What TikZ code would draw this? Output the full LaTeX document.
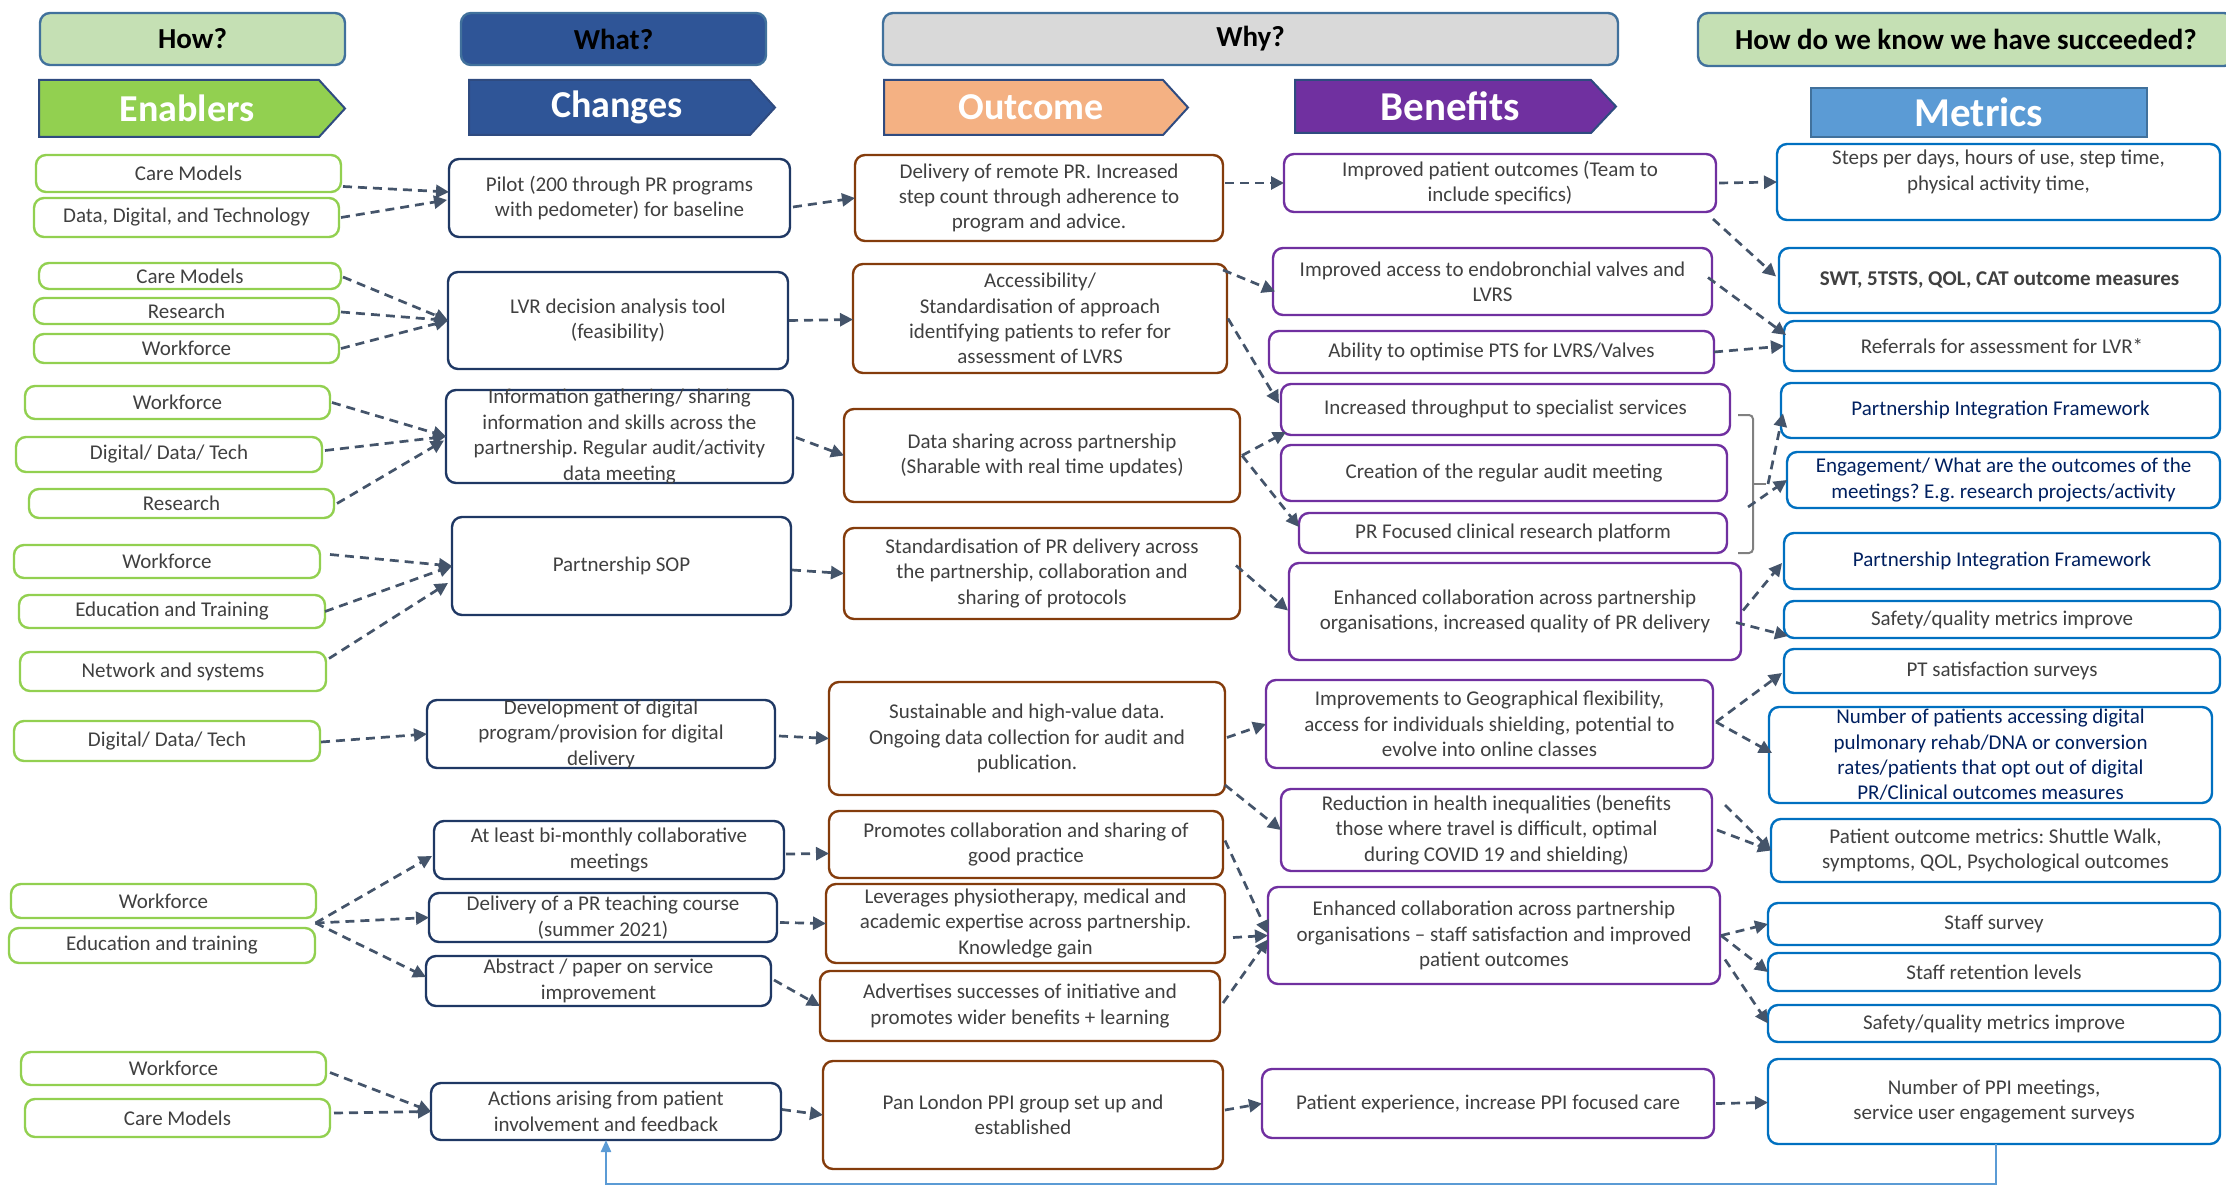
\documentclass[tikz,border=0pt]{standalone}
\usepackage{fontspec}
\setmainfont{Carlito}
\usetikzlibrary{arrows.meta,calc}

\definecolor{enb}{HTML}{92D050}
\definecolor{chg}{HTML}{1F3864}
\definecolor{outc}{HTML}{843C0C}
\definecolor{ben}{HTML}{7030A0}
\definecolor{met}{HTML}{0070C0}
\definecolor{arrc}{HTML}{44546A}
\definecolor{txtg}{HTML}{404040}
\definecolor{navyt}{HTML}{002060}
\definecolor{hgreen}{HTML}{C5E0B4}
\definecolor{hblue}{HTML}{2F5597}
\definecolor{hgray}{HTML}{D9D9D9}
\definecolor{hborder}{HTML}{41719C}
\definecolor{harrb}{HTML}{2F4B80}
\definecolor{outfill}{HTML}{F4B183}
\definecolor{metfill}{HTML}{5B9BD5}
\definecolor{fbline}{HTML}{5B9BD5}
\definecolor{brkc}{HTML}{808080}

\tikzset{
  box/.style={draw, rounded corners=5pt, line width=1.2pt, fill=white, inner sep=0pt, outer sep=0pt},
  enbox/.style={box, draw=enb},
  chbox/.style={box, draw=chg},
  ocbox/.style={box, draw=outc},
  bnbox/.style={box, draw=ben},
  mtbox/.style={box, draw=met},
  hbox/.style={box, draw=hborder},
  txt/.style={align=center, inner sep=0pt, text=txtg, font=\fontsize{10.5}{12.7}\selectfont},
  navytxt/.style={txt, text=navyt},
  boldtxt/.style={txt, font=\fontsize{10.5}{12.7}\selectfont\bfseries},
  htxt/.style={align=center, inner sep=0pt, text=black, font=\fontsize{14.5}{17}\selectfont\bfseries},
  bigtxt/.style={align=center, inner sep=0pt, text=white, font=\fontsize{19}{22}\selectfont\bfseries},
  biggertxt/.style={align=center, inner sep=0pt, text=white, font=\fontsize{20.5}{24}\selectfont\bfseries},
  arr/.style={draw=arrc, line width=1.35pt, dash pattern=on 4.5pt off 3pt,
    -{Triangle[length=6.5pt,width=6.5pt]}},
  fb/.style={draw=fbline, line width=1.1pt, -{Triangle[length=6pt,width=5pt]}},
  brkline/.style={draw=brkc, line width=1pt, rounded corners=2pt},
}

% box with given corners (x1,y1)-(x2,y2) and centred text
\newcommand\bx[8][txt]{%
  \pgfmathsetmacro\bxw{(#6-#4)*0.5}%
  \pgfmathsetmacro\bxh{(#7-#5)*0.5}%
  \node[#3, minimum width=\bxw pt, minimum height=\bxh pt] (#2) at ({(#4+#6)/2},{(#5+#7)/2}) {};%
  \node[#1] at (#2.center) {#8};%
}
% arrow-shaped heading: name, fill, x1, y1, body end, tip, y2, text, text style
\newcommand\harrow[9]{%
  \filldraw[fill=#2, draw=harrb, line width=1pt] (#3,#4) -- (#5,#4) -- (#6,{(#4+#7)/2}) -- (#5,#7) -- (#3,#7) -- cycle;%
  \node[#9] (#1) at ({(#3+#6)/2-5},{(#4+#7)/2}) {#8};%
}

\begin{document}
\frenchspacing
\begin{tikzpicture}[x=0.5pt, y=-0.5pt]
\useasboundingbox (0,0) rectangle (2226,1187);

% ---------- headings ----------
\bx[htxt]{hHow}{hbox,fill=hgreen}{40}{13}{345}{65}{How?}
\bx[htxt]{hWhat}{hbox,fill=hblue}{461}{13}{766}{65}{What?}
\bx[htxt]{hWhy}{hbox,fill=hgray}{883}{13}{1618}{65}{Why?}
\bx[htxt]{hKnow}{hbox,fill=hgreen}{1698}{13}{2234}{66}{How do we know we have succeeded?}

\harrow{hEnab}{enb}{39}{80}{319}{345}{137}{Enablers}{bigtxt}
\harrow{hChg}{hblue}{469}{80}{750}{775}{135}{Changes}{bigtxt}
\harrow{hOut}{outfill}{884}{80}{1163}{1188}{135}{Outcome}{bigtxt}
\harrow{hBen}{ben}{1295}{80}{1591}{1616}{133}{Benefits}{biggertxt}
\bx[biggertxt]{hMet}{draw=hborder,fill=metfill,line width=1.2pt,inner sep=0pt,outer sep=0pt}{1811}{88}{2147}{137}{Metrics}

% ---------- enablers ----------
\bx{E1}{enbox}{36}{155}{341}{192}{Care Models}
\bx{E2}{enbox}{34}{198}{339}{237}{Data, Digital, and Technology}
\bx{E3}{enbox}{39}{263}{341}{289}{Care Models}
\bx{E4}{enbox}{34}{298}{339}{324}{Research}
\bx{E5}{enbox}{34}{334}{339}{363}{Workforce}
\bx{E6}{enbox}{25}{386}{330}{419}{Workforce}
\bx{E7}{enbox}{16}{437}{322}{472}{Digital/ Data/ Tech}
\bx{E8}{enbox}{29}{489}{334}{518}{Research}
\bx{E9}{enbox}{14}{545}{320}{578}{Workforce}
\bx{E10}{enbox}{19}{595}{325}{628}{Education and Training}
\bx{E11}{enbox}{20}{652}{326}{691}{Network and systems}
\bx{E12}{enbox}{14}{721}{320}{761}{Digital/ Data/ Tech}
\bx{E13}{enbox}{11}{884}{316}{918}{Workforce}
\bx{E14}{enbox}{9}{928}{315}{963}{Education and training}
\bx{E15}{enbox}{21}{1052}{326}{1085}{Workforce}
\bx{E16}{enbox}{25}{1099}{330}{1137}{Care Models}

% ---------- changes ----------
\bx{C1}{chbox}{449}{159}{790}{237}{Pilot (200 through PR programs\\with pedometer) for baseline}
\bx{C2}{chbox}{448}{272}{788}{369}{LVR decision analysis tool\\(feasibility)}
\bx{C3}{chbox}{446}{390}{793}{483}{Information gathering/ sharing\\information and skills across the\\partnership. Regular audit/activity\\data meeting}
\bx{C4}{chbox}{452}{517}{791}{615}{Partnership SOP}
\bx{C5}{chbox}{427}{700}{775}{768}{Development of digital\\program/provision for digital\\delivery}
\bx{C6}{chbox}{434}{821}{784}{879}{At least bi-monthly collaborative\\meetings}
\bx{C7}{chbox}{429}{893}{777}{942}{Delivery of a PR teaching course\\(summer 2021)}
\bx{C8}{chbox}{426}{956}{771}{1006}{Abstract / paper on service\\improvement}
\bx{C9}{chbox}{431}{1083}{781}{1140}{Actions arising from patient\\involvement and feedback}

% ---------- outcomes ----------
\bx{O1}{ocbox}{855}{155}{1223}{241}{Delivery of remote PR. Increased\\step count through adherence to\\program and advice.}
\bx{O2}{ocbox}{853}{264}{1227}{373}{Accessibility/\\Standardisation of approach\\identifying patients to refer for\\assessment of LVRS}
\bx{O3}{ocbox}{844}{409}{1240}{502}{Data sharing across partnership\\(Sharable with real time updates)}
\bx{O4}{ocbox}{844}{528}{1240}{619}{Standardisation of PR delivery across\\the partnership, collaboration and\\sharing of protocols}
\bx{O5}{ocbox}{829}{682}{1225}{795}{Sustainable and high-value data.\\Ongoing data collection for audit and\\publication.}
\bx{O6}{ocbox}{829}{811}{1223}{878}{Promotes collaboration and sharing of\\good practice}
\bx{O7}{ocbox}{826}{884}{1225}{963}{Leverages physiotherapy, medical and\\academic expertise across partnership.\\Knowledge gain}
\bx{O8}{ocbox}{820}{971}{1220}{1041}{Advertises successes of initiative and\\promotes wider benefits + learning}
\bx{O9}{ocbox}{823}{1061}{1223}{1169}{Pan London PPI group set up and\\established}

% ---------- benefits ----------
\bx{B1}{bnbox}{1284}{154}{1716}{212}{Improved patient outcomes (Team to\\include specifics)}
\bx{B2}{bnbox}{1273}{248}{1712}{315}{Improved access to endobronchial valves and\\LVRS}
\bx{B3}{bnbox}{1269}{331}{1714}{373}{Ability to optimise PTS for LVRS/Valves}
\bx{B4}{bnbox}{1281}{384}{1730}{435}{Increased throughput to specialist services}
\bx{B5}{bnbox}{1281}{445}{1727}{501}{Creation of the regular audit meeting}
\bx{B6}{bnbox}{1299}{513}{1727}{553}{PR Focused clinical research platform}
\bx{B7}{bnbox}{1289}{563}{1741}{660}{Enhanced collaboration across partnership\\organisations, increased quality of PR delivery}
\bx{B8}{bnbox}{1266}{680}{1713}{768}{Improvements to Geographical flexibility,\\access for individuals shielding, potential to\\evolve into online classes}
\bx{B9}{bnbox}{1281}{789}{1712}{871}{Reduction in health inequalities (benefits\\those where travel is difficult, optimal\\during COVID 19 and shielding)}
\bx{B10}{bnbox}{1268}{887}{1720}{984}{Enhanced collaboration across partnership\\organisations – staff satisfaction and improved\\patient outcomes}
\bx{B11}{bnbox}{1262}{1069}{1714}{1138}{Patient experience, increase PPI focused care}

% ---------- metrics ----------
\bx{M1}{mtbox}{1777}{144}{2220}{220}{}
\node[txt, anchor=north] at ($(M1.north)+(0,6)$) {Steps per days, hours of use, step time,\\physical activity time,};
\bx[boldtxt]{M2}{mtbox}{1779}{248}{2220}{313}{SWT, 5TSTS, QOL, CAT outcome measures}
\bx{M3}{mtbox}{1784}{321}{2220}{371}{Referrals for assessment for LVR*}
\bx[navytxt]{M4}{mtbox}{1781}{383}{2220}{438}{Partnership Integration Framework}
\bx[navytxt]{M5}{mtbox}{1787}{452}{2220}{508}{Engagement/ What are the outcomes of the\\meetings? E.g. research projects/activity}
\bx[navytxt]{M6}{mtbox}{1784}{533}{2220}{589}{Partnership Integration Framework}
\bx{M7}{mtbox}{1784}{601}{2220}{638}{Safety/quality metrics improve}
\bx{M8}{mtbox}{1784}{649}{2220}{693}{PT satisfaction surveys}
\bx[navytxt]{M9}{mtbox}{1769}{707}{2212}{803}{Number of patients accessing digital\\pulmonary rehab/DNA or conversion\\rates/patients that opt out of digital\\PR/Clinical outcomes measures}
\bx{M10}{mtbox}{1771}{819}{2220}{882}{Patient outcome metrics: Shuttle Walk,\\symptoms, QOL, Psychological outcomes}
\bx{M11}{mtbox}{1768}{903}{2220}{945}{Staff survey}
\bx{M12}{mtbox}{1768}{953}{2220}{991}{Staff retention levels}
\bx{M13}{mtbox}{1768}{1005}{2220}{1042}{Safety/quality metrics improve}
\bx{M14}{mtbox}{1768}{1059}{2220}{1144}{Number of PPI meetings,\\service user engagement surveys}

% ---------- bracket grouping three benefits ----------
\draw[brkline] (1738,415) -- (1753,415) -- (1753,553) -- (1738,553);
\draw[brkline] (1753,484) -- (1766,484);
\coordinate (brTip) at (1768,484);
\coordinate (brLow) at (1748,507);

% ---------- enablers -> changes ----------
\draw[arr] ($(E1.east)+(2,13)$) -- ($(C1.west)+(0,-6)$);
\draw[arr] ($(E2.east)+(2,0)$) -- ($(C1.west)+(-2,2)$);
\draw[arr] ($(E3.east)+(2,1)$) -- (C2.west);
\draw[arr] ($(E4.east)+(2,1)$) -- (C2.west);
\draw[arr] ($(E5.east)+(2,0)$) -- (C2.west);
\draw[arr] ($(E6.east)+(2,0)$) -- (C3.west);
\draw[arr] ($(E7.east)+(3,-4)$) -- (C3.west);
\draw[arr] ($(E8.east)+(3,0)$) -- ($(C3.west)+(-2,4)$);
\draw[arr] ($(E9.east)+(10,-7)$) -- (C4.west);
\draw[arr] (E10.east) -- (C4.west);
\draw[arr] ($(E11.east)+(3,-13)$) -- ($(C4.west)+(-4,17)$);
\draw[arr] ($(E12.east)+(1,1)$) -- (C5.west);
\coordinate (J) at ($(E13.south east)!0.5!(E14.north east)$);
\draw[arr] (J) -- ($(C6.west)+(-2,6)$);
\draw[arr] (J) -- (C7.west);
\draw[arr] (J) -- ($(C8.west)+(0,-4)$);
\draw[arr] ($(E15.east)+(4,4)$) -- (C9.west);
\draw[arr] ($(E16.east)+(4,-5)$) -- (C9.west);

% ---------- changes -> outcomes ----------
\draw[arr] ($(C1.east)+(3,9)$) -- (O1.west);
\draw[arr] ($(C2.east)+(1,0)$) -- ($(O2.west)+(0,1)$);
\draw[arr] ($(C3.east)+(3,1)$) -- (O3.west);
\draw[arr] ($(C4.east)+(1,4)$) -- (O4.west);
\draw[arr] ($(C5.east)+(4,2)$) -- (O5.west);
\draw[arr] ($(C6.east)+(2,4)$) -- ($(O6.west)+(0,9)$);
\draw[arr] ($(C7.east)+(3,5)$) -- (O7.west);
\draw[arr] ($(C8.east)+(3,-1)$) -- (O8.west);
\draw[arr] ($(C9.east)+(1,-2)$) -- (O9.west);

% ---------- outcomes -> benefits ----------
\draw[arr] ($(O1.east)+(2,-15)$) -- (B1.west);
\draw[arr] ($(O2.north east)+(-4,6)$) -- ($(B2.west)+(2,10)$);
\draw[arr] ($(O2.east)+(1,0)$) -- ($(B4.west)+(-2,-6)$);
\draw[arr] ($(O3.east)+(2,0)$) -- ($(B4.south west)+(5,-3)$);
\draw[arr] ($(O3.east)+(2,0)$) -- ($(B6.west)+(0,-6)$);
\draw[arr] ($(O4.east)+(-4,-8)$) -- ($(B7.west)+(-1,-1)$);
\draw[arr] ($(O5.east)+(2,-1)$) -- (B8.west);
\draw[arr] ($(O5.south east)+(0,-10)$) -- (B9.west);
\draw[arr] ($(O6.east)+(2,-4)$) -- ($(B10.west)+(0,-2)$);
\draw[arr] ($(O7.east)+(8,14)$) -- (B10.west);
\draw[arr] ($(O8.east)+(3,-3)$) -- ($(B10.west)+(0,4)$);
\draw[arr] ($(O9.east)+(2,-5)$) -- (B11.west);

% ---------- benefits -> metrics ----------
\draw[arr] ($(B1.east)+(3,0)$) -- (M1.west);
\draw[arr] ($(B1.south east)+(-3,7)$) -- ($(M2.west)+(-3,-4)$);
\draw[arr] ($(B2.east)+(-4,-4)$) -- ($(M3.west)+(2,-11)$);
\draw[arr] (B3.east) -- (M3.west);
\draw[arr] (brTip) -- ($(M4.west)+(2,3)$);
\draw[arr] (brLow) -- (M5.west);
\draw[arr] ($(B7.east)+(2,-1)$) -- ($(M6.west)+(-2,2)$);
\draw[arr] ($(B7.east)+(-5,11)$) -- ($(M7.south west)+(4,-2)$);
\draw[arr] ($(B8.east)+(3,-2)$) -- ($(M8.west)+(-2,2)$);
\draw[arr] ($(B8.east)+(3,-2)$) -- ($(M9.west)+(3,-2)$);
\draw[arr] ($(B9.north east)+(13,16)$) -- (M10.west);
\draw[arr] ($(B9.east)+(5,0)$) -- (M10.west);
\draw[arr] ($(B10.east)+(1,0)$) -- (M11.west);
\draw[arr] ($(B10.east)+(1,0)$) -- (M12.west);
\draw[arr] ($(B10.east)+(5,24)$) -- (M13.west);
\draw[arr] ($(B11.east)+(2,0)$) -- ($(M14.west)+(0,1)$);

% ---------- feedback loop ----------
\coordinate (fbR) at (1996,1184);
\coordinate (fbL) at (606,1184);
\draw[fb] (M14.south -| fbR) -- (fbR) -- (fbL) -- (C9.south -| fbL);

\end{tikzpicture}
\end{document}
